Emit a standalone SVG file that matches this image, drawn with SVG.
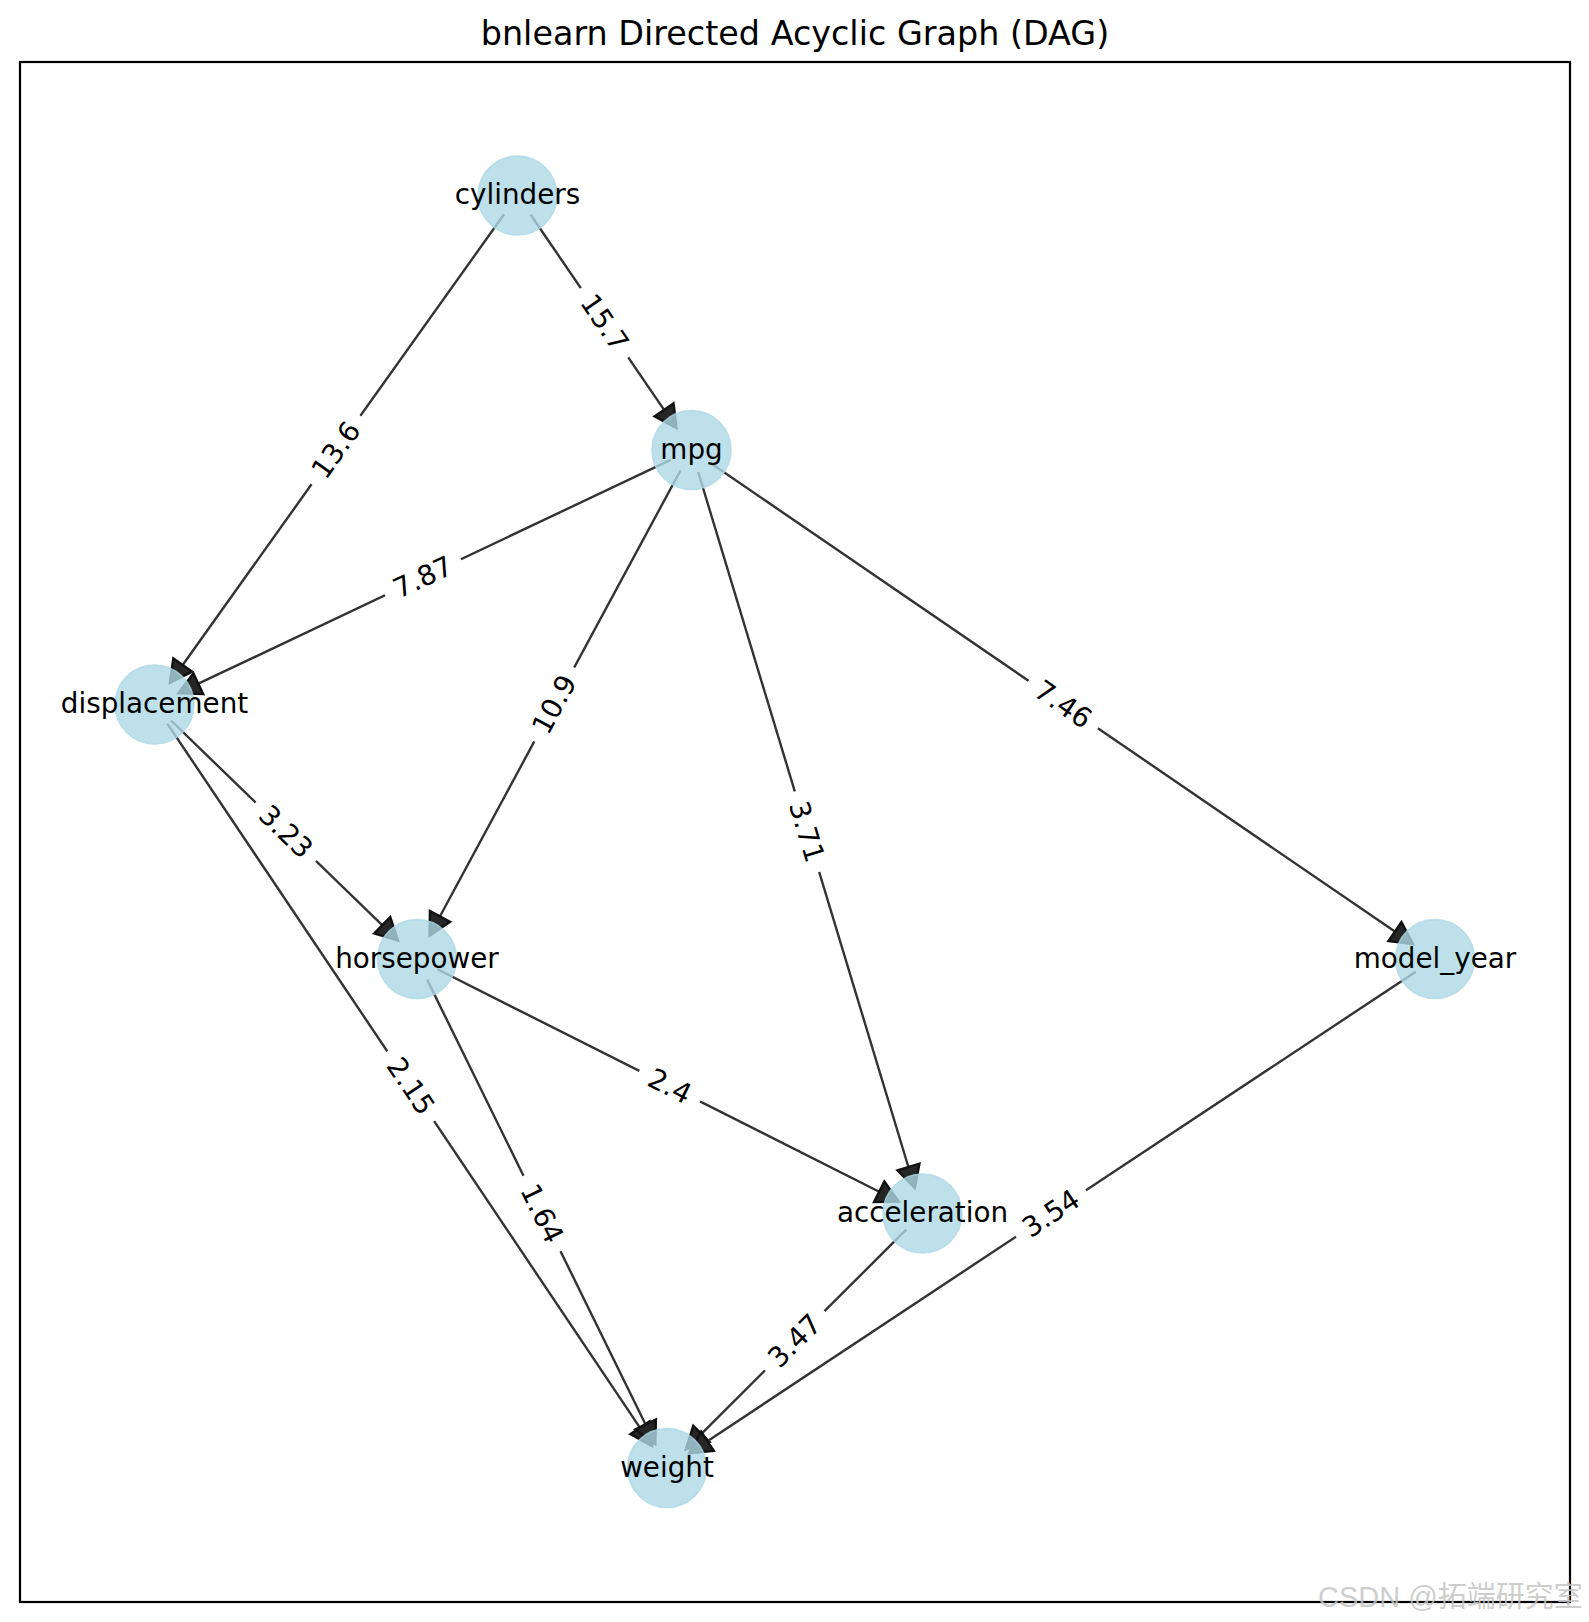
<svg xmlns="http://www.w3.org/2000/svg" width="1589" height="1622" viewBox="0 0 1589 1622">
<style>
.edge{stroke:#333;stroke-width:2.4;fill:none}
.ah{fill:#262626;stroke:#111;stroke-width:2.4;stroke-linejoin:miter}
.node circle{fill:#add8e6;fill-opacity:0.8;stroke:#add8e6;stroke-opacity:0.8;stroke-width:1.5}
.nl{font-family:"DejaVu Sans",sans-serif;font-size:27.8px;fill:#000;text-anchor:middle}
.el text{font-family:"DejaVu Sans",sans-serif;font-size:27.8px;fill:#000;text-anchor:middle}
.el rect{fill:#fff}
</style>
<defs>
<path id="head" class="ah" d="M-22,-11.5 L0,0 L-22,11.5 Z"/>
</defs>
<rect width="1589" height="1622" fill="#fff"/>
<rect x="20" y="62" width="1550" height="1540" fill="none" stroke="#000" stroke-width="2.2"/>
<text x="795" y="45" font-family="DejaVu Sans,sans-serif" font-size="33.4" text-anchor="middle" fill="#000">bnlearn Directed Acyclic Graph (DAG)</text>

<g id="connectors">
<line class="edge" x1="530.5" y1="214.5" x2="664.1" y2="409.9"/>
<use href="#head" transform="translate(676.5,428.1) rotate(55.64)"/>
<line class="edge" x1="504.1" y1="214.2" x2="182.7" y2="665.0"/>
<use href="#head" transform="translate(169.9,682.9) rotate(125.5)"/>
<line class="edge" x1="670.7" y1="459.85" x2="198.3" y2="683.7"/>
<use href="#head" transform="translate(178.45,693.15) rotate(154.64)"/>
<line class="edge" x1="680.6" y1="470.2" x2="440.0" y2="916.3"/>
<use href="#head" transform="translate(429.6,935.7) rotate(118.34)"/>
<line class="edge" x1="698.2" y1="472.0" x2="908.4" y2="1167.0"/>
<use href="#head" transform="translate(914.8,1188.1) rotate(73.17)"/>
<line class="edge" x1="710.5" y1="463.0" x2="1394.9" y2="931.6"/>
<use href="#head" transform="translate(1413.1,944.0) rotate(34.39)"/>
<line class="edge" x1="171.0" y1="720.5" x2="382.2" y2="925.2"/>
<use href="#head" transform="translate(398.0,940.55) rotate(44.11)"/>
<line class="edge" x1="167.3" y1="723.6" x2="639.9" y2="1427.7"/>
<use href="#head" transform="translate(652.2,1446.0) rotate(56.13)"/>
<line class="edge" x1="437.5" y1="969.3" x2="879.2" y2="1191.7"/>
<use href="#head" transform="translate(898.8,1201.6) rotate(26.72)"/>
<line class="edge" x1="427.1" y1="979.6" x2="645.6" y2="1424.5"/>
<use href="#head" transform="translate(655.3,1444.2) rotate(63.84)"/>
<line class="edge" x1="906.2" y1="1229.7" x2="701.4" y2="1433.8"/>
<use href="#head" transform="translate(685.8,1449.3) rotate(135.11)"/>
<line class="edge" x1="1415.8" y1="971.7" x2="707.4" y2="1441.2"/>
<use href="#head" transform="translate(689.1,1453.4) rotate(146.46)"/>
</g>

<g id="edge-labels" class="el">
<g transform="translate(604.5,322.75) rotate(55.64)"><rect x="-42" y="-21" width="84" height="42" rx="8"/><text y="9.5">15.7</text></g>
<g transform="translate(336,450) rotate(-54.5)"><rect x="-42" y="-21" width="84" height="42" rx="8"/><text y="9.5">13.6</text></g>
<g transform="translate(423,577.25) rotate(-25.36)"><rect x="-42" y="-21" width="84" height="42" rx="8"/><text y="9.5">7.87</text></g>
<g transform="translate(554.25,704.5) rotate(-61.66)"><rect x="-42" y="-21" width="84" height="42" rx="8"/><text y="9.5">10.9</text></g>
<g transform="translate(806.75,831.75) rotate(73.17)"><rect x="-42" y="-21" width="84" height="42" rx="8"/><text y="9.5">3.71</text></g>
<g transform="translate(1063.25,704.5) rotate(34.39)"><rect x="-42" y="-21" width="84" height="42" rx="8"/><text y="9.5">7.46</text></g>
<g transform="translate(285.75,831.75) rotate(44.11)"><rect x="-42" y="-21" width="84" height="42" rx="8"/><text y="9.5">3.23</text></g>
<g transform="translate(410.75,1086.25) rotate(56.13)"><rect x="-42" y="-21" width="84" height="42" rx="8"/><text y="9.5">2.15</text></g>
<g transform="translate(669.75,1086.25) rotate(26.72)"><rect x="-34" y="-21" width="68" height="42" rx="8"/><text y="9.5">2.4</text></g>
<g transform="translate(542,1213.5) rotate(63.84)"><rect x="-42" y="-21" width="84" height="42" rx="8"/><text y="9.5">1.64</text></g>
<g transform="translate(794.75,1340.75) rotate(-44.89)"><rect x="-42" y="-21" width="84" height="42" rx="8"/><text y="9.5">3.47</text></g>
<g transform="translate(1051,1213.5) rotate(-33.54)"><rect x="-42" y="-21" width="84" height="42" rx="8"/><text y="9.5">3.54</text></g>
</g>

<g id="node-cylinders" class="node"><circle cx="517.5" cy="195.5" r="39.5"/><text class="nl" x="517.5" y="204">cylinders</text></g>
<g id="node-mpg" class="node"><circle cx="691.5" cy="450" r="39.5"/><text class="nl" x="691.5" y="458.5">mpg</text></g>
<g id="node-displacement" class="node"><circle cx="154.5" cy="704.5" r="39.5"/><text class="nl" x="154.5" y="713">displacement</text></g>
<g id="node-horsepower" class="node"><circle cx="417" cy="959" r="39.5"/><text class="nl" x="417" y="967.5">horsepower</text></g>
<g id="node-model_year" class="node"><circle cx="1435" cy="959" r="39.5"/><text class="nl" x="1435" y="967.5">model_year</text></g>
<g id="node-acceleration" class="node"><circle cx="922.5" cy="1213.5" r="39.5"/><text class="nl" x="922.5" y="1222">acceleration</text></g>
<g id="node-weight" class="node"><circle cx="667" cy="1468" r="39.5"/><text class="nl" x="667" y="1476.5">weight</text></g>

<text x="1318" y="1607" font-family="Liberation Sans,Noto Sans CJK SC,sans-serif" font-size="29" fill="#c4c4c4" fill-opacity="0.85">CSDN @拓端研究室</text>
</svg>
